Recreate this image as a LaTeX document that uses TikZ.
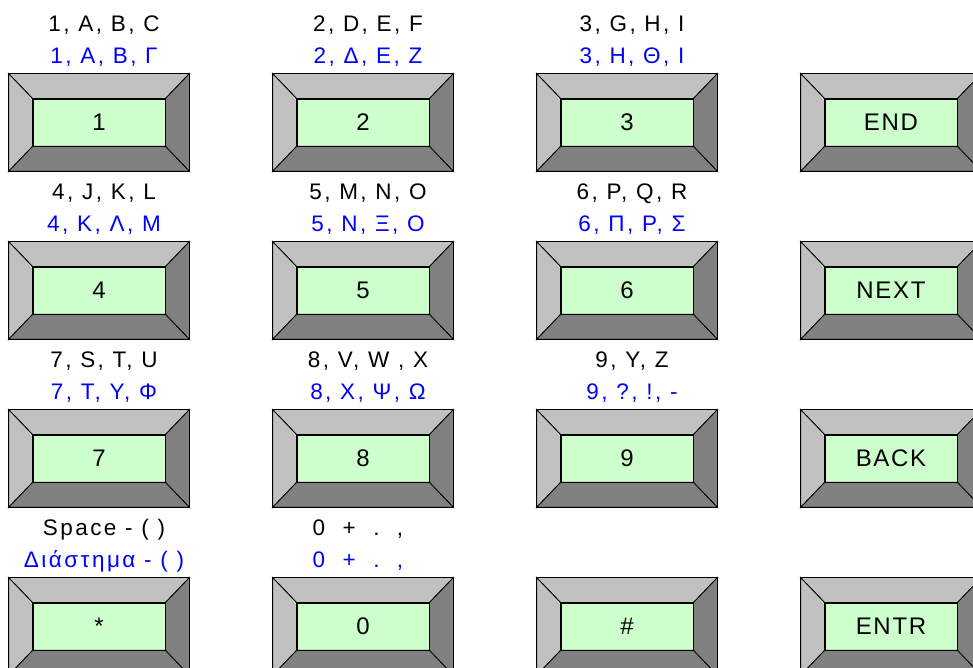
\documentclass[tikz,border=0pt]{standalone}
\usepackage{fontspec}
\setmainfont{Liberation Sans}[LetterSpace=7]
\usepackage{tikz}
\usetikzlibrary{calc}
\usetikzlibrary{positioning}
\definecolor{keygreen}{HTML}{CCFFCC}
\definecolor{bevellight}{HTML}{C0C0C0}
\definecolor{beveldark}{HTML}{808080}
\tikzset{
  % key face and the text rows above it
  keyface/.style={draw, rectangle, fill=keygreen, minimum width=132pt, minimum height=47pt, inner sep=0pt, font=\fontsize{24}{28}\selectfont},
  latinrow/.style={anchor=base, font=\fontsize{22.5}{26}\selectfont\addfontfeature{LetterSpace=11}},
  greekrow/.style={latinrow, text=blue},
  bevel/.style={draw, fill=#1}
}
% one key: name, centre x, centre y, text
\newcommand{\keycap}[4]{%
  \node[keyface] (#1) at (#2,#3) {#4};
  \path[bevel=bevellight] (#1.north west) -- ++(-24,25) -- ($(#1.north east)+(24,25)$) -- (#1.north east) -- cycle;
  \path[bevel=bevellight] (#1.north west) -- ++(-24,25) -- ($(#1.south west)+(-24,-25)$) -- (#1.south west) -- cycle;
  \path[bevel=beveldark] (#1.north east) -- ++(24,25) -- ($(#1.south east)+(24,-25)$) -- (#1.south east) -- cycle;
  \path[bevel=beveldark] (#1.south west) -- ++(-24,-25) -- ($(#1.south east)+(24,-25)$) -- (#1.south east) -- cycle;
}

\begin{document}
\begin{tikzpicture}[x=1pt, y=1pt, line width=0.8pt]
    \useasboundingbox (0,0) rectangle (973,668);

    % Keys
    \keycap{k1}{99}{545.5}{1}
    \keycap{k2}{363}{545.5}{2}
    \keycap{k3}{627}{545.5}{3}
    \keycap{kend}{891}{545.5}{END}
    \keycap{k4}{99}{377.5}{4}
    \keycap{k5}{363}{377.5}{5}
    \keycap{k6}{627}{377.5}{6}
    \keycap{knext}{891}{377.5}{NEXT}
    \keycap{k7}{99}{209.5}{7}
    \keycap{k8}{363}{209.5}{8}
    \keycap{k9}{627}{209.5}{9}
    \keycap{kback}{891}{209.5}{BACK}
    \keycap{kstar}{99}{41.5}{*}
    \keycap{k0}{363}{41.5}{0}
    \keycap{khash}{627}{41.5}{\#}
    \keycap{kentr}{891}{41.5}{ENTR}

    % Letters
    \node[latinrow] (l1) at (104,636) {1, A, B, C};
    \node[greekrow] (g1) at (104,604) {1, Α, Β, Γ};
    \node[latinrow] (l2) at (368,636) {2, D, E, F};
    \node[greekrow] (g2) at (368,604) {2, Δ, Ε, Ζ};
    \node[latinrow] (l3) at (632,636) {3, G, H, I};
    \node[greekrow] (g3) at (632,604) {3, Η, Θ, Ι};
    \node[latinrow] (l4) at (104,468) {4, J, K, L};
    \node[greekrow] (g4) at (104,436) {4, Κ, Λ, Μ};
    \node[latinrow] (l5) at (368,468) {5, M, N, O};
    \node[greekrow] (g5) at (368,436) {5, Ν, Ξ, Ο};
    \node[latinrow] (l6) at (632,468) {6, P, Q, R};
    \node[greekrow] (g6) at (632,436) {6, Π, Ρ, Σ};
    \node[latinrow] (l7) at (104,300) {7, S, T, U};
    \node[greekrow] (g7) at (104,268) {7, Τ, Υ, Φ};
    \node[latinrow] (l8) at (368,300) {8, V, W , X};
    \node[greekrow] (g8) at (368,268) {8, Χ, Ψ, Ω};
    \node[latinrow] (l9) at (632,300) {9, Y, Z};
    \node[greekrow] (g9) at (632,268) {9, ?, !, -};
    \node[latinrow] (lstar) at (104,132) {Space - ( )};
    \node[greekrow] (gstar) at (104,100) {Διάστημα - ( )};
    \node[latinrow] (l0) at (358,132) {0\ \ +\ \ .\ \ ,};
    \node[greekrow] (g0) at (358,100) {0\ \ +\ \ .\ \ ,};

\end{tikzpicture}
\end{document}
